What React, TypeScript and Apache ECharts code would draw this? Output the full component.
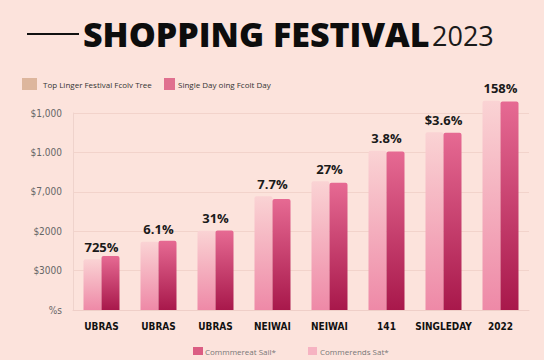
import React, { useEffect, useRef } from "react";
import * as echarts from "echarts";

const categories = ["UBRAS", "UBRAS", "UBRAS", "NEIWAI", "NEIWAI", "141", "SINGLEDAY", "2022"];
const lightValues = [1.29, 1.73, 2.01, 2.89, 3.27, 4.04, 4.51, 5.31];
const darkValues = [1.37, 1.76, 2.02, 2.82, 3.23, 4.02, 4.5, 5.29];
const barLabels = ["725%", "6.1%", "31%", "7.7%", "27%", "3.8%", "$3.6%", "158%"];
const yTickLabels = ["%s", "$3000", "$2000", "$7,000", "$1.000", "$1,000"];
const topLegend = ["Top Linger Festival Fcolv Tree", "Single Day oing Fcolt Day"];
const bottomLegend = ["Commmereat Sail*", "Commerends Sat*"];

export default function App() {
  const ref = useRef<HTMLDivElement>(null);
  useEffect(() => {
    if (!ref.current) return;
    const chart = echarts.init(ref.current, null, { renderer: "svg" });
    const lightGrad = new echarts.graphic.LinearGradient(0, 0, 0, 1, [
      { offset: 0, color: "#fad3d4" },
      { offset: 1, color: "#ee89a7" },
    ]);
    const darkGrad = new echarts.graphic.LinearGradient(0, 0, 0, 1, [
      { offset: 0, color: "#e66a93" },
      { offset: 1, color: "#a8184b" },
    ]);
    const font = "'Open Sans', 'Noto Sans', sans-serif";
    const cond = "'DejaVu Sans Condensed', 'Liberation Sans Narrow', sans-serif";
    chart.setOption({
      animation: false,
      backgroundColor: "#fce3dc",
      grid: { left: 73, right: 15, top: 113, bottom: 50 },
      xAxis: {
        type: "category",
        data: categories,
        axisLine: { lineStyle: { color: "#efcfc8" } },
        axisTick: { show: false },
        axisLabel: {
          interval: 0,
          color: "#111",
          fontWeight: "bold",
          fontSize: 10,
          margin: 11,
          fontFamily: cond,
        },
      },
      yAxis: {
        type: "value",
        min: 0,
        max: 5,
        interval: 1,
        axisLine: { show: true, lineStyle: { color: "#efd3cc" } },
        axisTick: { show: false },
        splitLine: { lineStyle: { color: "#f2d3cb" } },
        axisLabel: {
          color: "#666",
          fontSize: 10,
          margin: 11,
          fontFamily: cond,
          formatter: (v: number) => yTickLabels[Math.round(v)] ?? "",
        },
      },
      series: [
        {
          type: "bar",
          name: "light",
          data: lightValues,
          barWidth: 18,
          barGap: "0%",
          clip: false,
          itemStyle: { color: lightGrad, borderRadius: [2, 2, 0, 0] },
          label: {
            show: true,
            position: "top",
            distance: 6,
            offset: [9, 0],
            color: "#1a1a1a",
            fontWeight: "bold",
            fontSize: 13,
            fontFamily: font,
            formatter: (p: any) => barLabels[p.dataIndex],
          },
        },
        {
          type: "bar",
          name: "dark",
          data: darkValues,
          barWidth: 18,
          barGap: "0%",
          clip: false,
          itemStyle: { color: darkGrad, borderRadius: [2, 2, 0, 0] },
        },
      ],
      graphic: [
        { type: "line", shape: { x1: 27, y1: 34, x2: 79, y2: 34 }, style: { stroke: "#111", lineWidth: 2 } },
        {
          type: "text",
          x: 83,
          y: 34,
          style: {
            text: "SHOPPING FESTIVAL",
            fill: "#0d0d0d",
            font: `800 34px ${font}`,
            verticalAlign: "middle",
            align: "left",
          },
        },
        {
          type: "text",
          x: 432,
          y: 35,
          style: {
            text: "2023",
            fill: "#1a1a1a",
            font: `400 27px ${font}`,
            verticalAlign: "middle",
            align: "left",
          },
        },
        { type: "rect", shape: { x: 22, y: 78, width: 15, height: 12 }, style: { fill: "#ddb69d" } },
        {
          type: "text",
          x: 43,
          y: 84,
          style: { text: topLegend[0], fill: "#333", font: `8px ${font}`, verticalAlign: "middle" },
        },
        { type: "rect", shape: { x: 164, y: 78, width: 11, height: 12 }, style: { fill: "#e0708f" } },
        {
          type: "text",
          x: 178,
          y: 84,
          style: { text: topLegend[1], fill: "#333", font: `8px ${font}`, verticalAlign: "middle" },
        },
        { type: "rect", shape: { x: 193, y: 347, width: 10, height: 8 }, style: { fill: "#db5d83" } },
        {
          type: "text",
          x: 205,
          y: 351,
          style: { text: bottomLegend[0], fill: "#777", font: `8px ${font}`, verticalAlign: "middle" },
        },
        { type: "rect", shape: { x: 308, y: 347, width: 9, height: 8 }, style: { fill: "#f6b3c2" } },
        {
          type: "text",
          x: 320,
          y: 351,
          style: { text: bottomLegend[1], fill: "#777", font: `8px ${font}`, verticalAlign: "middle" },
        },
      ],
    });
    return () => chart.dispose();
  }, []);
  return <div ref={ref} style={{ width: 544, height: 360, position: "fixed", left: 0, top: 0 }} />;
}
